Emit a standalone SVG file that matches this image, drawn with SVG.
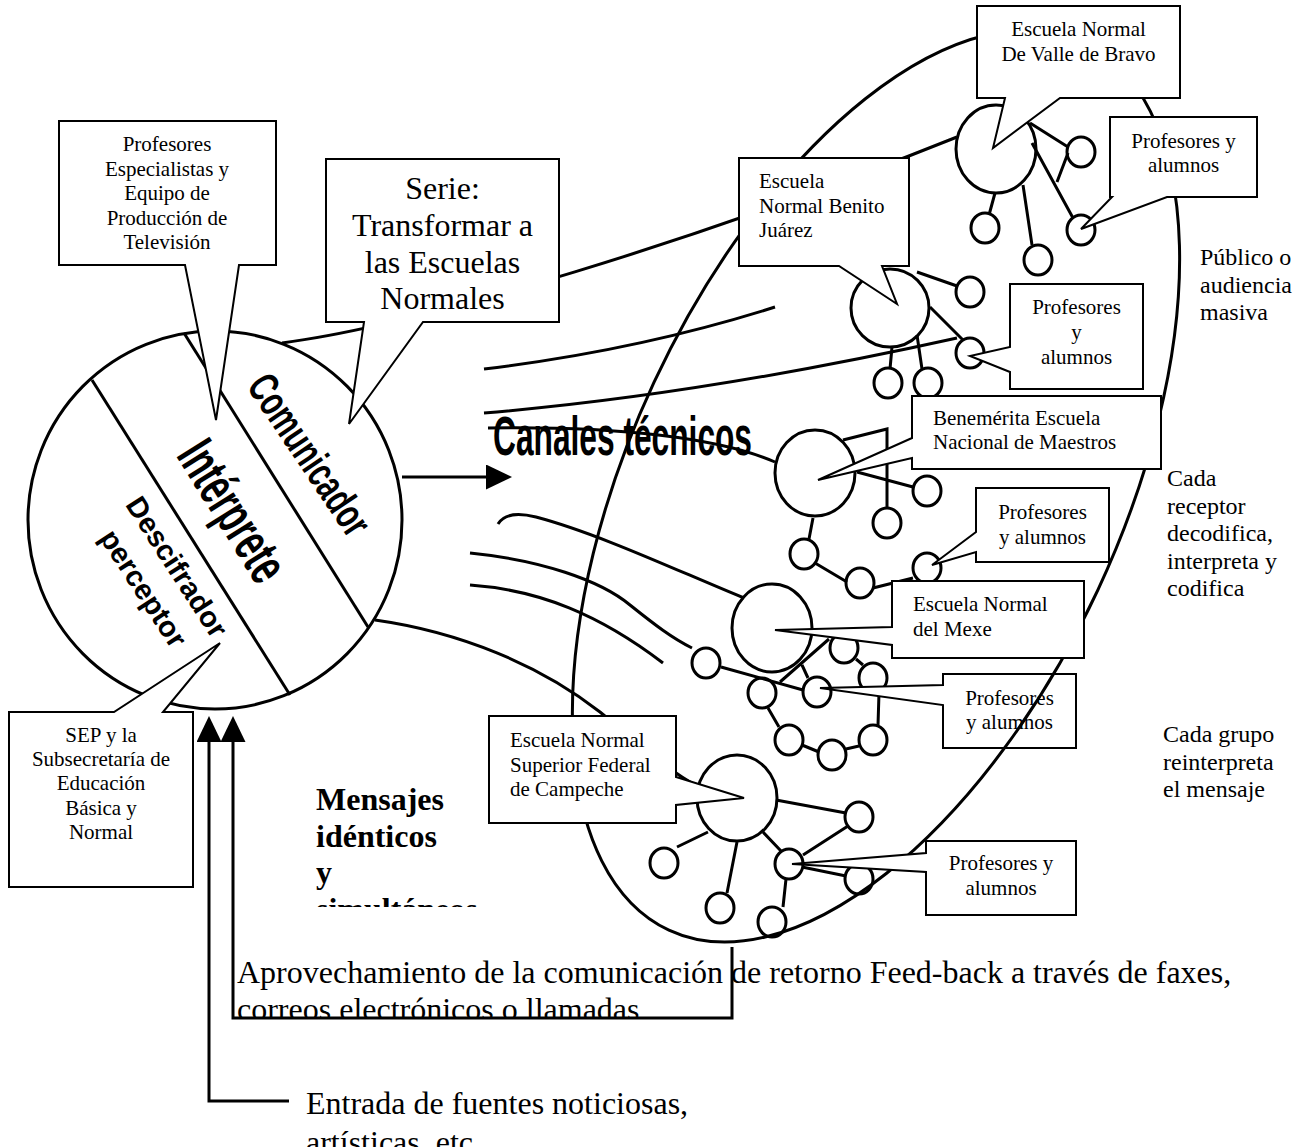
<svg xmlns="http://www.w3.org/2000/svg" width="1313" height="1147" viewBox="0 0 1313 1147">
<style>
.c{fill:#fff;stroke:#000;stroke-width:2;stroke-linejoin:miter}
.ln{fill:none;stroke:#000;stroke-width:3}
.o{fill:none;stroke:#000;stroke-width:3}
.ow{fill:#fff;stroke:#000;stroke-width:3}
.t{font-family:"Liberation Serif","Times New Roman",serif;font-size:21px;fill:#000}
.m{text-anchor:middle}
.r{font-size:24px}
.b32{font-size:32px}
.w{font-family:"Liberation Sans",Arial,sans-serif;font-weight:bold;fill:#000}
</style>
<defs>
<marker id="arr" viewBox="0 0 26 25" refX="0" refY="12.5" markerWidth="26" markerHeight="25" markerUnits="userSpaceOnUse" orient="auto">
<path d="M0,0 L26,12.5 L0,25 Z" fill="#000"/>
</marker>
<clipPath id="clipMens"><rect x="300" y="760" width="220" height="147"/></clipPath>
<clipPath id="clipApro"><rect x="230" y="940" width="1083" height="77"/></clipPath>
</defs>
<rect width="1313" height="1147" fill="#fff"/>

<g id="emisor">
<ellipse class="ow" cx="215" cy="520" rx="187" ry="189"/>
<line class="ln" x1="92" y1="380" x2="290" y2="695"/>
<line class="ln" x1="184" y1="333" x2="368" y2="627"/>
<text class="w" font-size="43" text-anchor="middle" transform="translate(309,455) rotate(56)" y="14" textLength="185" lengthAdjust="spacingAndGlyphs">Comunicador</text>
<text class="w" font-size="56" text-anchor="middle" transform="translate(231,512) rotate(58)" y="17" textLength="155" lengthAdjust="spacingAndGlyphs">Intérprete</text>
<text class="w" font-size="29" text-anchor="middle" transform="translate(177,567) rotate(57)" y="10">Descifrador</text>
<text class="w" font-size="29" text-anchor="middle" transform="translate(141,590) rotate(57)" y="7">perceptor</text>
</g>

<g id="conectores">
<path class="ln" d="M282,343 C420,325 700,240 957,137"/>
<path class="ln" d="M484,369 Q640,350 775,307"/>
<path class="ln" d="M484,413 Q700,395 957,338"/>
<path class="ln" d="M488,428 C620,426 720,438 775,462"/>
<path class="ln" d="M498,524 C504,514 516,512 536,517 C600,534 680,572 744,598"/>
<path class="ln" d="M470,553 C540,560 600,580 630,605 C655,625 672,638 692,648"/>
<path class="ln" d="M470,585 C540,590 600,615 663,663"/>
<path class="ln" d="M375,620 C460,632 540,665 600,712 C640,745 670,772 699,787"/>
<path class="ln" d="M402,477 H486" marker-end="url(#arr)"/>
<path class="ln" d="M732,947 V1018 H233 V742" marker-end="url(#arr)"/>
<path class="ln" d="M289,1101 H209 V742" marker-end="url(#arr)"/>
<path class="ln" d="M1030,123 L1068,147 M1068,153 L1057,182 M1032,143 L1073,218 M995,193 L989,215 M1023,185 L1032,245"/>
<path class="ln" d="M917,272 L957,286 M930,307 L963,340 M892,347 L890,369 M917,335 L922,369"/>
<path class="ln" d="M843,440 L887,429 L887,508 M857,472 L913,487 M813,518 L809,539 M815,563 L847,582 M873,588 L913,578"/>
<path class="ln" d="M721,667 L803,690 M802,665 L808,678 M780,682 L829,639 M856,659 L863,665 M768,708 L779,727 M802,745 L819,752 M846,749 L859,746 M879,693 L878,725"/>
<path class="ln" d="M708,832 L677,847 M737,842 L727,893 M763,832 L781,851 M776,800 L846,813 M803,855 L848,826 M802,867 L846,876 M786,879 L783,907"/>
</g>

<g id="escuela-valle-circulos">
<ellipse class="o" cx="996" cy="149" rx="40" ry="44"/>
<ellipse class="o" cx="1081" cy="152" rx="14" ry="15"/>
<ellipse class="o" cx="985" cy="228" rx="14" ry="15"/>
<ellipse class="o" cx="1038" cy="260" rx="14" ry="15"/>
<ellipse class="o" cx="1081" cy="230" rx="14" ry="15"/>
</g>
<g id="escuela-benito-circulos">
<ellipse class="o" cx="890" cy="308" rx="39" ry="39"/>
<ellipse class="o" cx="970" cy="292" rx="14" ry="15"/>
<ellipse class="o" cx="970" cy="353" rx="14" ry="15"/>
<ellipse class="o" cx="888" cy="383" rx="14" ry="15"/>
<ellipse class="o" cx="928" cy="383" rx="14" ry="15"/>
</g>
<g id="escuela-benm-circulos">
<ellipse class="o" cx="815" cy="473" rx="40" ry="43"/>
<ellipse class="o" cx="887" cy="523" rx="14" ry="15"/>
<ellipse class="o" cx="927" cy="491" rx="14" ry="15"/>
<ellipse class="o" cx="804" cy="554" rx="14" ry="15"/>
<ellipse class="o" cx="860" cy="583" rx="14" ry="15"/>
<ellipse class="o" cx="927" cy="568" rx="14" ry="15"/>
</g>
<g id="escuela-mexe-circulos">
<ellipse class="o" cx="772" cy="628" rx="40" ry="44"/>
<ellipse class="o" cx="706" cy="663" rx="14" ry="15"/>
<ellipse class="o" cx="762" cy="693" rx="14" ry="15"/>
<ellipse class="o" cx="844" cy="648" rx="14" ry="15"/>
<ellipse class="o" cx="873" cy="678" rx="14" ry="15"/>
<ellipse class="o" cx="817" cy="692" rx="14" ry="15"/>
<ellipse class="o" cx="789" cy="740" rx="14" ry="15"/>
<ellipse class="o" cx="832" cy="755" rx="14" ry="15"/>
<ellipse class="o" cx="873" cy="740" rx="14" ry="15"/>
</g>
<g id="escuela-campeche-circulos">
<ellipse class="o" cx="737" cy="798" rx="40" ry="43"/>
<ellipse class="o" cx="664" cy="863" rx="14" ry="15"/>
<ellipse class="o" cx="720" cy="908" rx="14" ry="15"/>
<ellipse class="o" cx="789" cy="864" rx="14" ry="15"/>
<ellipse class="o" cx="859" cy="817" rx="14" ry="15"/>
<ellipse class="o" cx="859" cy="879" rx="14" ry="15"/>
<ellipse class="o" cx="772" cy="922" rx="14" ry="15"/>
</g>

<g id="globo-mexe-alumnos">
<path class="c" d="M943,674 H1076 V748 H943 V705 L820,688 L943,685 Z"/>
<text class="t m" x="1009.5" y="705">Profesores</text>
<text class="t m" x="1009.5" y="729">y alumnos</text>
</g>

<g id="audiencia">
<ellipse class="o" cx="876" cy="486" rx="245" ry="490" transform="rotate(25 876 486)"/>
</g>

<g id="globo-profesores-especialistas">
<path class="c" d="M59,121 H276 V265 H239 L216,420 L185,265 H59 Z"/>
<text class="t m" x="167" y="151">Profesores</text>
<text class="t m" x="167" y="175.5">Especialistas y</text>
<text class="t m" x="167" y="200">Equipo de</text>
<text class="t m" x="167" y="224.5">Producción de</text>
<text class="t m" x="167" y="249">Televisión</text>
</g>

<g id="globo-serie">
<path class="c" d="M326,159 H559 V322 H423 L349,424 L364,322 H326 Z"/>
<text class="t m b32" x="442.5" y="199">Serie:</text>
<text class="t m b32" x="442.5" y="236">Transformar a</text>
<text class="t m b32" x="442.5" y="273">las Escuelas</text>
<text class="t m b32" x="442.5" y="309">Normales</text>
</g>

<g id="globo-sep">
<path class="c" d="M9,712 H114 L220,643 L163,712 H193 V887 H9 Z"/>
<text class="t m" x="101" y="742">SEP y la</text>
<text class="t m" x="101" y="766">Subsecretaría de</text>
<text class="t m" x="101" y="790">Educación</text>
<text class="t m" x="101" y="815">Básica y</text>
<text class="t m" x="101" y="839">Normal</text>
</g>

<g id="globo-valle">
<path class="c" d="M977,6 H1180 V98 H1060 L993,148 L1005,98 H977 Z"/>
<text class="t m" x="1078.5" y="36">Escuela Normal</text>
<text class="t m" x="1078.5" y="61">De Valle de Bravo</text>
</g>

<g id="globo-valle-alumnos">
<path class="c" d="M1110,117 H1257 V197 H1167 L1081,229 L1112,197 H1110 Z"/>
<text class="t m" x="1183.5" y="148">Profesores y</text>
<text class="t m" x="1183.5" y="172">alumnos</text>
</g>

<g id="globo-benito">
<path class="c" d="M739,158 H909 V266 H882 L897,304 L839,266 H739 Z"/>
<text class="t" x="759" y="188">Escuela</text>
<text class="t" x="759" y="212.5">Normal Benito</text>
<text class="t" x="759" y="237">Juárez</text>
</g>

<g id="globo-benito-alumnos">
<path class="c" d="M1010,284 H1143 V389 H1010 V372 L970,356 L1010,347 Z"/>
<text class="t m" x="1076.5" y="314">Profesores</text>
<text class="t m" x="1076.5" y="339">y</text>
<text class="t m" x="1076.5" y="364">alumnos</text>
</g>

<g id="globo-benm">
<path class="c" d="M912,396 H1161 V469 H912 V458 L818,480 L912,438 Z"/>
<text class="t" x="933" y="425">Benemérita Escuela</text>
<text class="t" x="933" y="449">Nacional de Maestros</text>
</g>

<g id="globo-benm-alumnos">
<path class="c" d="M976,488 H1109 V562 H976 V552 L932,565 L976,532 Z"/>
<text class="t m" x="1042.5" y="519">Profesores</text>
<text class="t m" x="1042.5" y="544">y alumnos</text>
</g>

<g id="globo-mexe">
<path class="c" d="M892,581 H1084 V658 H892 V645 L775,630 L892,627 Z"/>
<text class="t" x="913" y="611">Escuela Normal</text>
<text class="t" x="913" y="636">del Mexe</text>
</g>

<g id="globo-campeche">
<path class="c" d="M489,716 H676 V777 L744,798 L676,805 V823 H489 Z"/>
<text class="t" x="510" y="747">Escuela Normal</text>
<text class="t" x="510" y="771.5">Superior Federal</text>
<text class="t" x="510" y="796">de Campeche</text>
</g>

<g id="globo-campeche-alumnos">
<path class="c" d="M926,841 H1076 V915 H926 V872 L792,864 L926,853 Z"/>
<text class="t m" x="1001" y="870">Profesores y</text>
<text class="t m" x="1001" y="895">alumnos</text>
</g>

<g id="textos">
<text class="w" font-size="56" x="493" y="455" textLength="259" lengthAdjust="spacingAndGlyphs">Canales técnicos</text>
<text class="t r" x="1200" y="265">Público o</text>
<text class="t r" x="1200" y="293">audiencia</text>
<text class="t r" x="1200" y="320">masiva</text>
<text class="t r" x="1167" y="486">Cada</text>
<text class="t r" x="1167" y="513.5">receptor</text>
<text class="t r" x="1167" y="541">decodifica,</text>
<text class="t r" x="1167" y="568.5">interpreta y</text>
<text class="t r" x="1167" y="596">codifica</text>
<text class="t r" x="1163" y="742">Cada grupo</text>
<text class="t r" x="1163" y="770">reinterpreta</text>
<text class="t r" x="1163" y="797">el mensaje</text>
<g clip-path="url(#clipMens)">
<text class="t b32" font-weight="bold" x="316" y="810">Mensajes</text>
<text class="t b32" font-weight="bold" x="316" y="847">idénticos</text>
<text class="t b32" font-weight="bold" x="316" y="883">y</text>
<text class="t b32" font-weight="bold" x="316" y="920">simultáneos</text>
</g>
<g clip-path="url(#clipApro)">
<text class="t b32" x="237" y="983">Aprovechamiento de la comunicación de retorno Feed-back a través de faxes,</text>
<text class="t b32" x="237" y="1020">correos electrónicos o llamadas</text>
</g>
<text class="t b32" x="306" y="1114">Entrada de fuentes noticiosas,</text>
<text class="t b32" x="306" y="1153">artísticas, etc.</text>
</g>
</svg>
